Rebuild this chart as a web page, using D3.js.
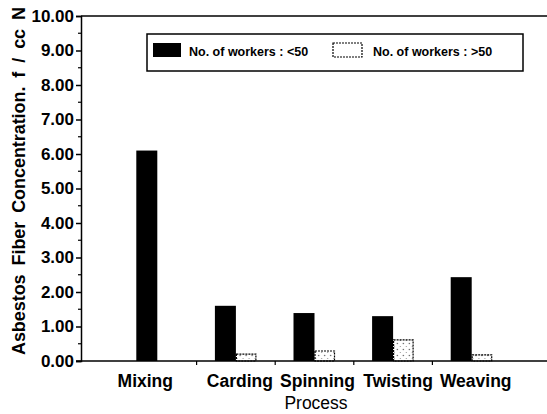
<!DOCTYPE html>
<html>
<head>
<meta charset="utf-8">
<script src="https://cdn.jsdelivr.net/npm/d3@7"></script>
<style>
  body { margin: 0; background: white; }
  text { font-family: "Liberation Sans", Arial, sans-serif; fill: black; }
</style>
</head>
<body>
<div id="chart"></div>
<script>
// data
const categories = ['Mixing', 'Carding', 'Spinning', 'Twisting', 'Weaving'];
const workersUnder50 = [6.10, 1.60, 1.39, 1.30, 2.43];
const workersOver50 = [null, 0.20, 0.29, 0.61, 0.18];
const seriesKeys = ['under', 'over'];
const seriesLabels = ['No. of workers : <50', 'No. of workers : >50'];
const yTicks = [0, 1, 2, 3, 4, 5, 6, 7, 8, 9, 10];
const yMinorTicks = [0.5, 1.5, 2.5, 3.5, 4.5, 5.5, 6.5, 7.5, 8.5, 9.5];

let width = 547,
	height = 414;

let svg = d3.select('#chart')
	.append('svg')
	.attr('width', width)
	.attr('height', height)
	.style('background', 'white');

// dotted fill for the >50 bars
let defs = svg.append('defs');
let pat = defs.append('pattern')
	.attr('id', 'dots')
	.attr('patternUnits', 'userSpaceOnUse')
	.attr('width', 6)
	.attr('height', 6);
pat.append('rect').attr('width', 6).attr('height', 6).attr('fill', 'white');
pat.append('circle').attr('cx', 1.5).attr('cy', 1.5).attr('r', 0.7).attr('fill', '#555');
pat.append('circle').attr('cx', 4.5).attr('cy', 4.5).attr('r', 0.6).attr('fill', '#888');

// scales
let y = d3.scaleLinear().domain([0, 10]).range([361, 16]);
let x0 = d3.scaleBand().domain(categories).range([118, 511]).padding(0);
let x1 = d3.scaleBand().domain(seriesKeys)
	.range([x0.bandwidth() / 2 - 21, x0.bandwidth() / 2 + 21]);

let axisLeftX = 81;

// top frame line
svg.append('line')
	.attr('x1', axisLeftX).attr('x2', width)
	.attr('y1', y(10)).attr('y2', y(10))
	.attr('stroke', 'black').attr('stroke-width', 1.5);

// y axis
let yAxis = svg.append('g')
	.attr('transform', 'translate(' + axisLeftX + ',0)')
	.call(d3.axisLeft(y)
		.tickValues(yTicks)
		.tickFormat(d3.format('.2f'))
		.tickSize(5)
		.tickPadding(2));
yAxis.select('.domain').attr('stroke-width', 1.5);
yAxis.selectAll('line').attr('stroke-width', 1.5);
yAxis.selectAll('text')
	.style('font-size', '17px')
	.style('font-weight', 'bold');

// minor ticks
svg.selectAll('.minor')
	.data(yMinorTicks)
	.enter()
	.append('line')
	.attr('x1', axisLeftX - 3).attr('x2', axisLeftX)
	.attr('y1', d => y(d)).attr('y2', d => y(d))
	.attr('stroke', 'black').attr('stroke-width', 1.2);

// bars
let groups = svg.selectAll('.grp')
	.data(categories)
	.enter()
	.append('g')
	.attr('transform', d => 'translate(' + x0(d) + ',0)');

groups.append('rect')
	.attr('x', x1('under'))
	.attr('width', x1.bandwidth())
	.attr('y', (d, i) => y(workersUnder50[i]))
	.attr('height', (d, i) => y(0) - y(workersUnder50[i]))
	.attr('fill', 'black');

groups.filter((d, i) => workersOver50[i] != null)
	.append('rect')
	.attr('x', x1('over') + 0.5)
	.attr('width', x1.bandwidth() - 1.5)
	.attr('y', d => y(workersOver50[categories.indexOf(d)]))
	.attr('height', d => y(0) - y(workersOver50[categories.indexOf(d)]))
	.attr('fill', 'url(#dots)')
	.attr('stroke', 'black')
	.attr('stroke-width', 1.2)
	.attr('stroke-dasharray', '2,1');

// x axis line and separator ticks
svg.append('line')
	.attr('x1', axisLeftX - 5).attr('x2', width)
	.attr('y1', y(0)).attr('y2', y(0))
	.attr('stroke', 'black').attr('stroke-width', 1.5);

svg.selectAll('.xtick')
	.data(categories.slice(1))
	.enter()
	.append('line')
	.attr('x1', d => x0(d)).attr('x2', d => x0(d))
	.attr('y1', y(0)).attr('y2', y(0) + 4)
	.attr('stroke', 'black').attr('stroke-width', 1.2);

// category labels (Mixing sits a bit left in the original)
let labelShift = [-12, 4, 3, 5, 4];
svg.selectAll('.xlab')
	.data(categories)
	.enter()
	.append('text')
	.attr('x', (d, i) => x0(d) + x0.bandwidth() / 2 + labelShift[i])
	.attr('y', 387)
	.attr('text-anchor', 'middle')
	.style('font-size', '17.5px')
	.style('font-weight', 'bold')
	.text(d => d);

// axis titles
svg.append('text')
	.attr('x', 316)
	.attr('y', 409)
	.attr('text-anchor', 'middle')
	.style('font-size', '17.5px')
	.text('Process');

svg.append('text')
	.attr('transform', 'translate(25,355) rotate(-90)')
	.attr('x', 0)
	.attr('y', 0)
	.attr('textLength', 348)
	.attr('lengthAdjust', 'spacing')
	.style('font-size', '18px')
	.style('font-weight', 'bold')
	.style('word-spacing', '4px')
	.text('Asbestos Fiber Concentration. f / cc N');

// legend
let legend = svg.append('g');
legend.append('rect')
	.attr('x', 147).attr('y', 34)
	.attr('width', 376).attr('height', 37)
	.attr('fill', 'white')
	.attr('stroke', 'black')
	.attr('stroke-width', 1.5);

let legendX = [153, 333];
legend.selectAll('.sw')
	.data(seriesKeys)
	.enter()
	.append('rect')
	.attr('x', (d, i) => legendX[i])
	.attr('y', 43)
	.attr('width', (d, i) => i == 0 ? 28 : 29)
	.attr('height', 14)
	.attr('fill', (d, i) => i == 0 ? 'black' : 'white')
	.attr('stroke', 'black')
	.attr('stroke-width', (d, i) => i == 0 ? 0 : 1.2)
	.attr('stroke-dasharray', (d, i) => i == 0 ? null : '2,1');

legend.selectAll('.lt')
	.data(seriesLabels)
	.enter()
	.append('text')
	.attr('x', (d, i) => [189, 373][i])
	.attr('y', 56)
	.style('font-size', '12.5px')
	.style('font-weight', 'bold')
	.text(d => d);
</script>
</body>
</html>
